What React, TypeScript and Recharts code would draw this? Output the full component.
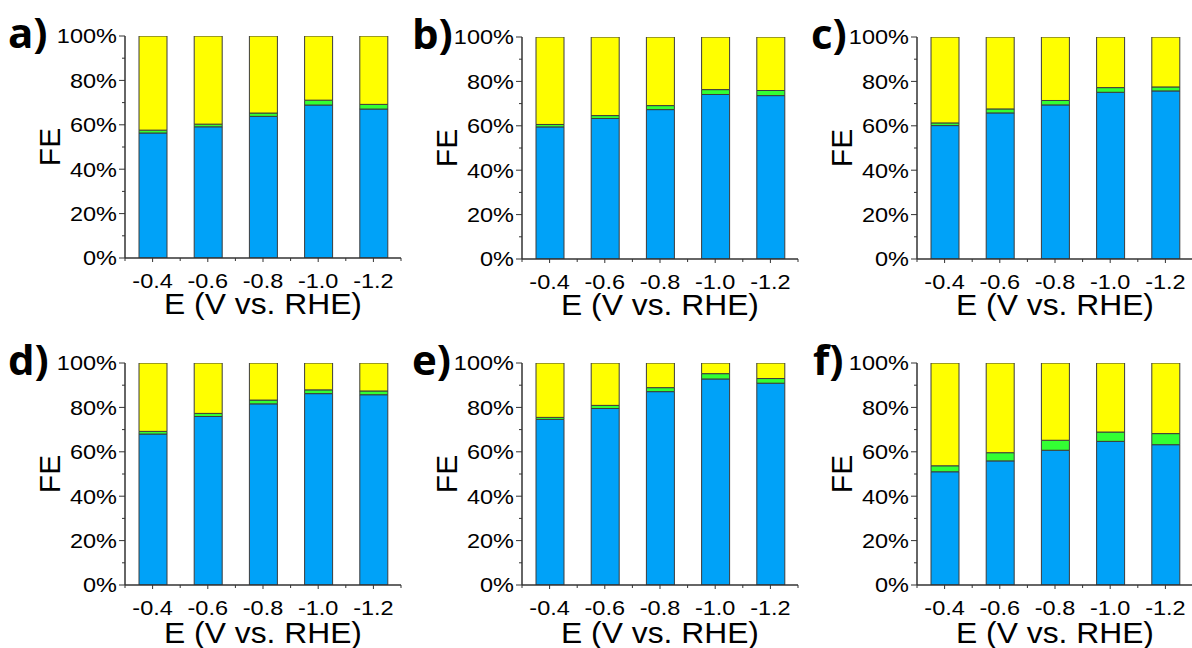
import React from 'react';
import { BarChart, Bar, XAxis, YAxis } from 'recharts';

const categories = ['-0.4', '-0.6', '-0.8', '-1.0', '-1.2'];

const blueA = [56.3, 59.1, 63.8, 68.9, 67.1];
const greenA = [1.3, 1.2, 1.5, 2.2, 2.1];
const yellowA = [42.4, 39.7, 34.7, 28.9, 30.8];

const blueB = [59.5, 63.3, 67.3, 74.1, 73.6];
const greenB = [1.1, 1.3, 1.8, 2.2, 2.3];
const yellowB = [39.4, 35.4, 30.9, 23.7, 24.1];

const blueC = [60.1, 65.8, 69.4, 75.1, 75.7];
const greenC = [1.2, 1.8, 2.0, 2.1, 1.8];
const yellowC = [38.7, 32.4, 28.6, 22.8, 22.5];

const blueD = [68.0, 75.9, 81.6, 86.2, 85.7];
const greenD = [1.2, 1.4, 1.7, 1.7, 1.7];
const yellowD = [30.8, 22.7, 16.7, 12.1, 12.6];

const blueE = [74.6, 79.5, 87.1, 92.8, 90.9];
const greenE = [0.9, 1.4, 1.8, 2.4, 2.1];
const yellowE = [24.5, 19.1, 11.1, 4.8, 7.0];

const blueF = [51.0, 55.9, 60.7, 64.7, 63.2];
const greenF = [2.7, 3.7, 4.5, 4.2, 5.0];
const yellowF = [46.3, 40.4, 34.8, 31.1, 31.8];

const yTicks = [0, 10, 20, 30, 40, 50, 60, 70, 80, 90, 100];
const panelLetters = ['a)', 'b)', 'c)', 'd)', 'e)', 'f)'];
const xTitle = 'E (V vs. RHE)';
const yTitle = 'FE';

const FONT = '"Liberation Sans", Arial, sans-serif';
const BLUE = '#00A2F8';
const GREEN = '#33FF33';
const YELLOW = '#FFFF00';
const BAR_STROKE = '#3c3c3c';
const AXIS = '#333333';
const FRAME = '#8a8a8a';

const PLOT_W = 276;
const PLOT_H = 222;
const MARGIN_TOP = 36;
const BAND = PLOT_W / categories.length;
const TICK_FS = 21;
const TICK_SX = 1.12;

function buildRows(blue: number[], green: number[], yellow: number[]) {
  return categories.map((e, i) => ({ e, blue: blue[i], green: green[i], yellow: yellow[i] }));
}

const panels = [
  { letter: panelLetters[0], rows: buildRows(blueA, greenA, yellowA), left: 0, top: 0, yw: 125, letterX: 8, titleOff: 35 },
  { letter: panelLetters[1], rows: buildRows(blueB, greenB, yellowB), left: 400, top: 0.5, yw: 122, letterX: 12, titleOff: 35 },
  { letter: panelLetters[2], rows: buildRows(blueC, greenC, yellowC), left: 795, top: 0.5, yw: 122, letterX: 16, titleOff: 35 },
  { letter: panelLetters[3], rows: buildRows(blueD, greenD, yellowD), left: 0, top: 327, yw: 125, letterX: 8, titleOff: 37 },
  { letter: panelLetters[4], rows: buildRows(blueE, greenE, yellowE), left: 400, top: 327, yw: 122, letterX: 12, titleOff: 37 },
  { letter: panelLetters[5], rows: buildRows(blueF, greenF, yellowF), left: 795, top: 327, yw: 122, letterX: 18, titleOff: 37 },
];

const SText = ({ x, y, sx, children, ...rest }: any) => (
  <text transform={`translate(${x} ${y}) scale(${sx} 1)`} x={0} y={0} fontFamily={FONT} fill="#000" {...rest}>
    {children}
  </text>
);

const YTick = (p: any) => {
  const v = p.payload.value;
  const major = v % 20 === 0;
  return (
    <g>
      <line x1={p.x - (major ? 6 : 3)} x2={p.x} y1={p.y} y2={p.y} stroke={AXIS} strokeWidth={1} />
      {major && (
        <SText x={p.x - 8} y={p.y} sx={TICK_SX} dy="0.355em" textAnchor="end" fontSize={TICK_FS}>
          {v}%
        </SText>
      )}
    </g>
  );
};

const XTick = (p: any) => {
  const last = p.index === categories.length - 1;
  return (
    <g>
      <line x1={p.x} x2={p.x} y1={p.y} y2={p.y + 4} stroke={AXIS} strokeWidth={1} />
      <line x1={p.x - BAND / 2} x2={p.x - BAND / 2} y1={p.y} y2={p.y + 3} stroke={AXIS} strokeWidth={1} />
      {last && <line x1={p.x + BAND / 2} x2={p.x + BAND / 2} y1={p.y} y2={p.y + 3} stroke={AXIS} strokeWidth={1} />}
      <SText x={p.x} y={p.y + 15} sx={TICK_SX} dy="0.71em" textAnchor="middle" fontSize={TICK_FS}>
        {p.payload.value}
      </SText>
    </g>
  );
};

function Panel({ cfg }: { cfg: typeof panels[number] }) {
  const width = cfg.yw + PLOT_W + 10;
  const plotLeft = cfg.yw;
  const plotBottom = MARGIN_TOP + PLOT_H;
  const xLabel = () => (
    <SText
      x={plotLeft + PLOT_W / 2}
      y={plotBottom + cfg.titleOff}
      sx={1.06}
      dy="0.71em"
      textAnchor="middle"
      fontSize={30}
    >
      {xTitle}
    </SText>
  );
  const yLabel = () => {
    const fx = plotLeft - 65;
    const fy = MARGIN_TOP + PLOT_H / 2;
    return (
      <g>
        <text
          x={fx}
          y={fy}
          textAnchor="middle"
          fontSize={30}
          fontFamily={FONT}
          fill="#000"
          transform={`rotate(-90, ${fx}, ${fy})`}
        >
          {yTitle}
        </text>
        <text
          x={cfg.letterX}
          y={MARGIN_TOP + 12}
          fontSize={42}
          fontWeight={700}
          fontFamily='"Open Sans", "Noto Sans", sans-serif'
          fill="#000"
        >
          {cfg.letter}
        </text>
      </g>
    );
  };
  return (
    <div style={{ position: 'absolute', left: cfg.left, top: cfg.top }}>
      <BarChart
        width={width}
        height={330}
        data={cfg.rows}
        margin={{ top: MARGIN_TOP, right: 10, left: 0, bottom: 2 }}
        barSize={28}
      >
        <XAxis
          xAxisId="top"
          orientation="top"
          dataKey="e"
          height={0}
          tick={false}
          tickLine={false}
          axisLine={{ stroke: FRAME, strokeWidth: 1.5 }}
        />
        <XAxis
          dataKey="e"
          height={70}
          interval={0}
          tickSize={0}
          tickMargin={0}
          tickLine={false}
          tick={(p: any) => <XTick {...p} />}
          axisLine={{ stroke: AXIS, strokeWidth: 1.5 }}
          label={xLabel}
        />
        <YAxis
          yAxisId="right"
          orientation="right"
          width={0}
          domain={[0, 100]}
          tick={false}
          tickLine={false}
          axisLine={{ stroke: FRAME, strokeWidth: 1.5 }}
        />
        <YAxis
          width={cfg.yw}
          domain={[0, 100]}
          ticks={yTicks}
          interval={0}
          allowDataOverflow
          tickSize={0}
          tickMargin={0}
          tickLine={false}
          tick={(p: any) => <YTick {...p} />}
          axisLine={{ stroke: AXIS, strokeWidth: 1.5 }}
          label={yLabel}
        />
        <Bar dataKey="blue" stackId="s" fill={BLUE} stroke={BAR_STROKE} strokeWidth={1} isAnimationActive={false} />
        <Bar dataKey="green" stackId="s" fill={GREEN} stroke={BAR_STROKE} strokeWidth={1} isAnimationActive={false} />
        <Bar dataKey="yellow" stackId="s" fill={YELLOW} stroke={BAR_STROKE} strokeWidth={1} isAnimationActive={false} />
      </BarChart>
    </div>
  );
}

export default function App() {
  return (
    <div
      style={{
        position: 'absolute',
        left: 0,
        top: 0,
        width: 1192,
        height: 648,
        overflow: 'hidden',
        background: '#fff',
      }}
    >
      {panels.map((cfg, i) => (
        <Panel key={i} cfg={cfg} />
      ))}
    </div>
  );
}
